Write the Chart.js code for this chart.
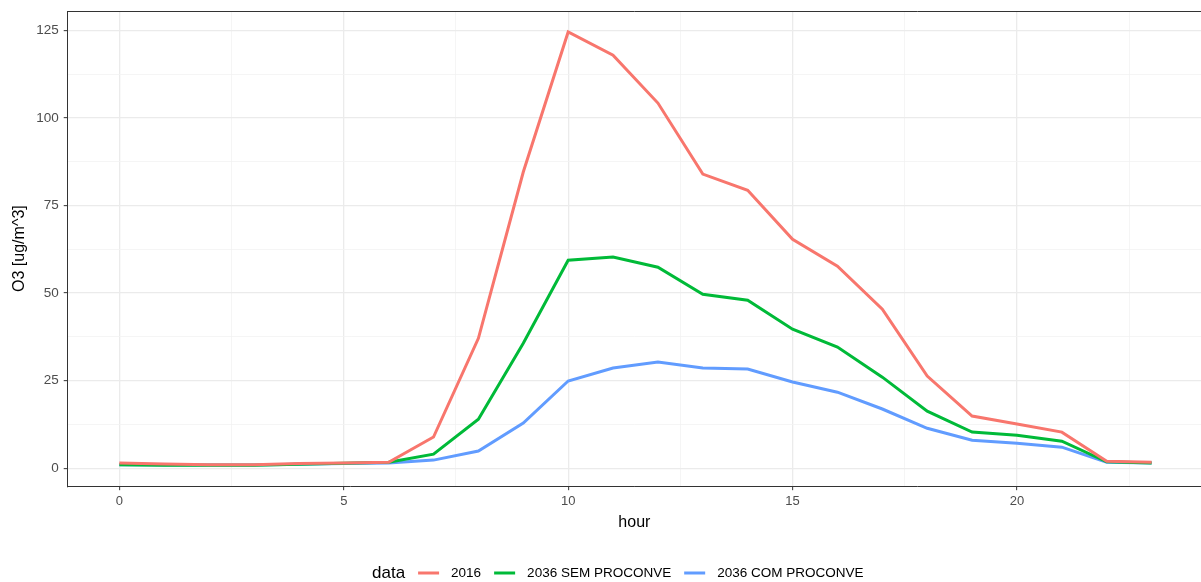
<!DOCTYPE html>
<html>
<head>
<meta charset="utf-8">
<script src="https://cdn.jsdelivr.net/npm/chart.js@4"></script>
<style>
  html, body { margin:0; padding:0; background:#fff; overflow:hidden; }
  #wrap { width:1201px; height:582px; position:relative; }
</style>
</head>
<body>
<div id="wrap"><canvas id="o3Chart" width="1201" height="582"></canvas></div>
<script>
  const hours = [0,1,2,3,4,5,6,7,8,9,10,11,12,13,14,15,16,17,18,19,20,21,22,23];
  const o3_2016 = [1.5,1.2,1.0,1.0,1.3,1.5,1.7,8.9,37.1,84.6,124.6,118.0,104.3,84.0,79.4,65.4,57.7,45.4,26.3,14.9,12.6,10.3,2.0,1.7];
  const o3_sem  = [1.0,0.8,0.8,0.8,1.1,1.4,1.7,4.0,14.0,35.7,59.4,60.3,57.4,49.7,48.0,39.7,34.6,26.0,16.3,10.3,9.4,7.7,1.8,1.5];
  const o3_com  = [1.0,0.9,0.9,0.9,1.1,1.3,1.5,2.3,4.9,12.9,24.9,28.6,30.3,28.6,28.3,24.6,21.7,16.9,11.4,8.0,7.1,6.0,1.7,1.5];
  const seriesNames = ['2016','2036 SEM PROCONVE','2036 COM PROCONVE'];
  const seriesColors = ['#F8766D','#00BA38','#619CFF'];
  const xTicks = [0,2.5,5,7.5,10,12.5,15,17.5,20,22.5];
  const yTicks = [0,12.5,25,37.5,50,62.5,75,87.5,100,112.5,125];

  const font = 'Liberation Sans, Arial, Helvetica, sans-serif';
  const isMajor = (v, step) => Math.abs(v / step - Math.round(v / step)) < 1e-6;

  function pts(vals){ return hours.map((h,i)=>({x:h, y:vals[i]})); }

  // top border of the panel + ggplot style legend
  const panelAndLegend = {
    id: 'panelAndLegend',
    afterDraw(chart){
      const {ctx, chartArea} = chart;
      ctx.save();
      ctx.strokeStyle = '#333333';
      ctx.lineWidth = 1;
      ctx.beginPath();
      ctx.moveTo(chartArea.left, chartArea.top + 0.5);
      ctx.lineTo(chartArea.right, chartArea.top + 0.5);
      ctx.stroke();

      const y = 573;
      ctx.textBaseline = 'middle';
      ctx.fillStyle = '#000';
      ctx.font = '17px ' + font;
      let x = 372;
      ctx.fillText('data', x, y);
      x += ctx.measureText('data').width + 13;
      ctx.font = '13.5px ' + font;
      chart.data.datasets.forEach(ds => {
        ctx.strokeStyle = ds.borderColor;
        ctx.lineWidth = 3;
        ctx.beginPath();
        ctx.moveTo(x, y); ctx.lineTo(x + 21, y);
        ctx.stroke();
        x += 21 + 12;
        ctx.fillStyle = '#000';
        ctx.fillText(ds.label, x, y);
        x += ctx.measureText(ds.label).width + 13;
      });
      ctx.restore();
    }
  };

  new Chart(document.getElementById('o3Chart').getContext('2d'), {
    type: 'line',
    data: {
      datasets: [
        { label: seriesNames[0], data: pts(o3_2016), borderColor: seriesColors[0] },
        { label: seriesNames[1], data: pts(o3_sem),  borderColor: seriesColors[1] },
        { label: seriesNames[2], data: pts(o3_com),  borderColor: seriesColors[2] }
      ].map(d => Object.assign(d, { borderWidth: 3, pointRadius: 0, tension: 0, fill: false, backgroundColor: d.borderColor }))
    },
    options: {
      responsive: false,
      animation: false,
      layout: { padding: { left: 10, right: 0, top: 11, bottom: 50 } },
      plugins: { legend: { display: false }, tooltip: { enabled: false } },
      scales: {
        x: {
          type: 'linear', min: -1.15, max: 24.1,
          afterBuildTicks: ax => { ax.ticks = xTicks.map(v => ({value: v})); },
          ticks: { autoSkip: false, maxRotation: 0, padding: 3, color: '#4D4D4D', font: { family: font, size: 13 },
                   callback: v => isMajor(v, 5) ? String(v) : '' },
          grid: {
            color: c => isMajor(c.tick.value, 5) ? '#EBEBEB' : '#F3F3F3',
            lineWidth: c => isMajor(c.tick.value, 5) ? 1.3 : 0.8,
            tickLength: 4,
            tickColor: c => isMajor(c.tick.value, 5) ? '#333333' : 'rgba(0,0,0,0)',
            tickWidth: 1
          },
          border: { display: true, color: '#333333', width: 1 },
          title: { display: true, text: 'hour', color: '#000', font: { family: font, size: 16 }, padding: { top: 1, bottom: 0 } }
        },
        y: {
          type: 'linear', min: -5.15, max: 130.6,
          afterBuildTicks: ax => { ax.ticks = yTicks.map(v => ({value: v})); },
          afterFit: ax => { ax.paddingTop = 0; ax.paddingBottom = 0; },
          ticks: { autoSkip: false, padding: 5, color: '#4D4D4D', font: { family: font, size: 13.5 },
                   callback: v => isMajor(v, 25) ? String(v) : '' },
          grid: {
            color: c => isMajor(c.tick.value, 25) ? '#EBEBEB' : '#F3F3F3',
            lineWidth: c => isMajor(c.tick.value, 25) ? 1.3 : 0.8,
            tickLength: 4,
            tickColor: c => isMajor(c.tick.value, 25) ? '#333333' : 'rgba(0,0,0,0)',
            tickWidth: 1
          },
          border: { display: true, color: '#333333', width: 1 },
          title: { display: true, text: 'O3 [ug/m^3]', color: '#000', font: { family: font, size: 16 }, padding: { top: 0, bottom: 2 } }
        }
      }
    },
    plugins: [panelAndLegend]
  });
</script>
</body>
</html>
